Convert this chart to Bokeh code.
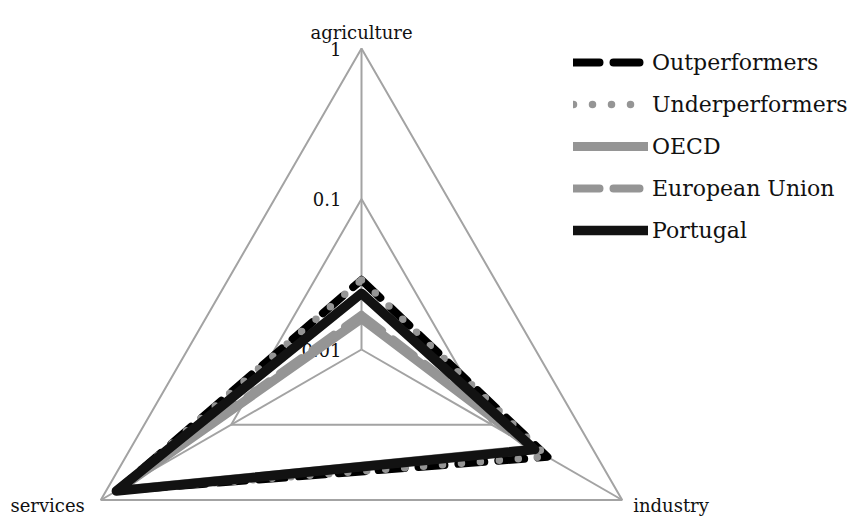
import numpy as np
from bokeh.plotting import figure
from bokeh.models import Range1d, Legend, LegendItem
from bokeh.core.properties import value
from bokeh.embed import file_html
from bokeh.resources import INLINE

# Sector shares of value added (log radial scale)
categories = ["agriculture", "industry", "services"]
outperformers = [0.029, 0.267, 0.75]
underperformers = [0.029, 0.265, 0.75]
oecd = [0.016, 0.21, 0.75]
european_union = [0.017, 0.215, 0.745]
portugal = [0.0236, 0.213, 0.76]
tick_values = [0.01, 0.1, 1]
tick_labels = ["0.01", "0.1", "1"]

W, H = 860, 517
CX, CY = 361, 349          # radar centre in screen pixels
PX_PER_DECADE = 150.5

LOG_MIN = np.log10(tick_values[0])
angles = np.deg2rad([90, -30, 210])   # agriculture, industry, services


def radial(vals, close=True):
    r = np.log10(np.asarray(vals, dtype=float)) - LOG_MIN
    x = r * np.cos(angles)
    y = r * np.sin(angles)
    if close:
        x = np.append(x, x[0])
        y = np.append(y, y[0])
    return x, y


p = figure(width=W, height=H, output_backend="svg", toolbar_location=None,
           x_axis_location=None, y_axis_location=None, min_border=0,
           x_range=Range1d(-CX / PX_PER_DECADE, (W - CX) / PX_PER_DECADE),
           y_range=Range1d(-(H - CY) / PX_PER_DECADE, CY / PX_PER_DECADE))
p.grid.visible = False
p.outline_line_color = None
p.background_fill_color = "white"
p.border_fill_color = "white"

GRID = "#a3a3a3"
# rings
for tv in tick_values[1:]:
    gx, gy = radial([tv] * 3)
    p.line(gx, gy, line_color=GRID, line_width=2)
# spokes
ox, oy = radial([tick_values[-1]] * 3, close=False)
p.segment(x0=[0, 0, 0], y0=[0, 0, 0], x1=ox, y1=oy, line_color=GRID, line_width=2)

FONT_NAME = "DejaVu Serif"
FONT = value(FONT_NAME)

# tick labels on the agriculture spoke
r_ticks = np.log10(tick_values) - LOG_MIN
p.text(x=[0] * len(tick_values), y=list(r_ticks), text=tick_labels, x_offset=-20,
       text_align="right", text_baseline="middle", text_font=FONT,
       text_font_size="18px", text_color="#111111")

# category labels
cx, cy = radial([tick_values[-1]] * 3, close=False)
p.text(x=[cx[0]], y=[cy[0]], text=[categories[0]], y_offset=-16,
       text_align="center", text_baseline="alphabetic", text_font=FONT,
       text_font_size="18px", text_color="#111111")
p.text(x=[cx[1]], y=[cy[1]], text=[categories[1]], x_offset=11, y_offset=5,
       text_align="left", text_baseline="alphabetic", text_font=FONT,
       text_font_size="18px", text_color="#111111")
p.text(x=[cx[2]], y=[cy[2]], text=[categories[2]], x_offset=-16, y_offset=5,
       text_align="right", text_baseline="alphabetic", text_font=FONT,
       text_font_size="18px", text_color="#111111")

GREY = "#959595"
series = [
    ("Outperformers", outperformers, dict(line_color="#000000", line_width=8, line_dash="26 14")),
    ("Underperformers", underperformers, dict(line_color=GREY, line_width=7.5, line_dash="0 19")),
    ("OECD", oecd, dict(line_color=GREY, line_width=9)),
    ("European Union", european_union, dict(line_color=GREY, line_width=8, line_dash="26 14")),
    ("Portugal", portugal, dict(line_color="#121212", line_width=9.5)),
]

items = []
for name, vals, style in series:
    sx, sy = radial(vals)
    r = p.line(sx, sy, line_cap="round", line_join="round", **style)
    items.append(LegendItem(label=name, renderers=[r]))

legend = Legend(items=items, location=(573, 266), padding=0, margin=0, spacing=0,
                glyph_width=75, glyph_height=42, label_height=42, label_standoff=4,
                label_text_font=FONT_NAME, label_text_font_size="22px",
                label_text_color="#111111", border_line_color=None,
                background_fill_alpha=0)
p.add_layout(legend)

open("out.html", "w").write(file_html(p, INLINE))
